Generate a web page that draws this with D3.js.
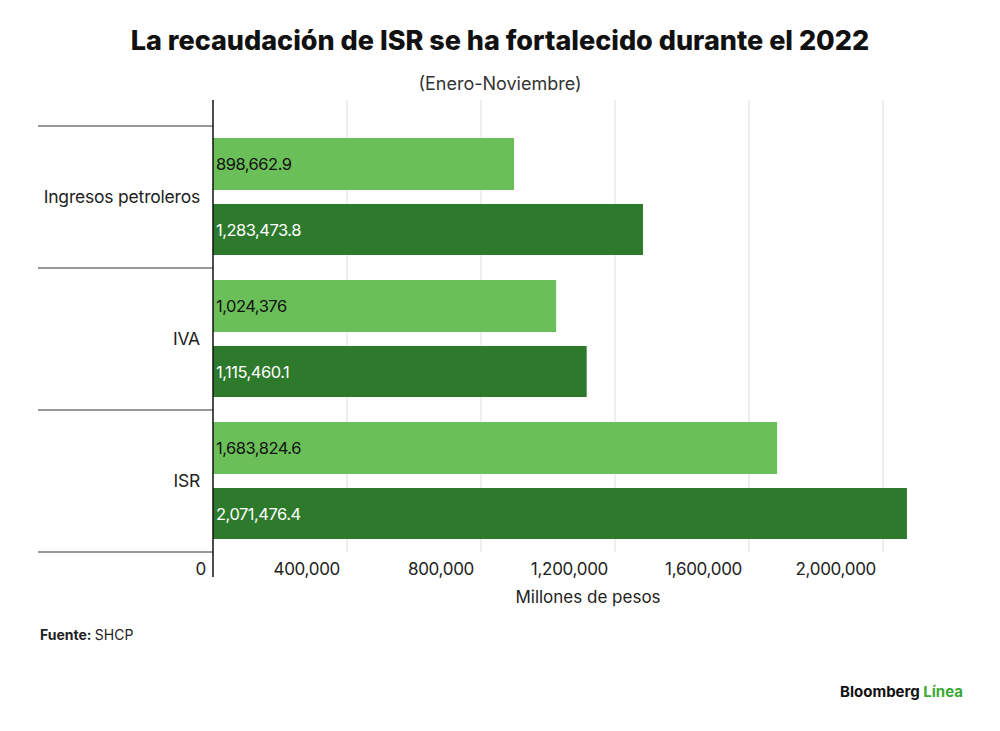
<!DOCTYPE html>
<html lang="es">
<head>
<meta charset="UTF-8">
<script src="https://d3js.org/d3.v7.min.js"></script>
<style>
  body { margin: 0; background: #fff; font-family: "Inter", "Roboto", sans-serif; }
</style>
</head>
<body>
<div id="chart"></div>
<script>
  // datos (millones de pesos)
  const categories = ["Ingresos petroleros", "IVA", "ISR"]
  const values2021 = [898662.9, 1024376, 1683824.6]
  const values2022 = [1283473.8, 1115460.1, 2071476.4]
  const labels2021 = ["898,662.9", "1,024,376", "1,683,824.6"]
  const labels2022 = ["1,283,473.8", "1,115,460.1", "2,071,476.4"]
  const tickValues = [0, 400000, 800000, 1200000, 1600000, 2000000]

  const W = 1000, H = 731
  const svg = d3.select("#chart").append("svg").attr("width", W).attr("height", H)

  const x = d3.scaleLinear().domain([0, 400000]).range([213, 347])
  const y = d3.scaleBand().domain(categories).range([126, 552])

  svg.append("text").attr("x", 500).attr("y", 50).attr("text-anchor", "middle")
    .attr("font-size", 27).attr("font-weight", 800).attr("fill", "#111")
    .text("La recaudación de ISR se ha fortalecido durante el 2022")
  svg.append("text").attr("x", 500).attr("y", 90).attr("text-anchor", "middle")
    .attr("font-size", 18).attr("fill", "#333").text("(Enero-Noviembre)")

  // grid
  svg.selectAll(".grid").data(tickValues.slice(1)).enter().append("line")
    .attr("x1", d => x(d)).attr("x2", d => x(d)).attr("y1", 100).attr("y2", 552)
    .attr("stroke", "#ddd")

  // separadores
  const seps = [126, 268, 410, 552]
  svg.selectAll(".sep").data(seps).enter().append("line")
    .attr("x1", 38).attr("x2", 213).attr("y1", d => d).attr("y2", d => d)
    .attr("stroke", "#333")

  const bw = y.bandwidth()
  const g = svg.selectAll(".cat").data(categories).enter().append("g")
    .attr("transform", d => `translate(0, ${y(d)})`)

  g.append("rect").attr("x", x(0)).attr("y", 12).attr("height", 52)
    .attr("width", (d, i) => x(values2021[i]) - x(0)).attr("fill", "#6abf59")
  g.append("rect").attr("x", x(0)).attr("y", 78).attr("height", 51)
    .attr("width", (d, i) => x(values2022[i]) - x(0)).attr("fill", "#2e7a2c")

  g.append("text").attr("x", 216).attr("y", 44).attr("font-size", 16.5).attr("fill", "#111")
    .attr("letter-spacing", -0.5).text((d, i) => labels2021[i])
  g.append("text").attr("x", 216).attr("y", 110).attr("font-size", 16.5).attr("fill", "#fff")
    .attr("letter-spacing", -0.5).text((d, i) => labels2022[i])

  g.append("text").attr("x", 200).attr("y", bw / 2 + 6).attr("text-anchor", "end")
    .attr("font-size", 17.5).attr("fill", "#222").attr("letter-spacing", -0.2).text(d => d)

  // eje
  svg.append("line").attr("x1", 213).attr("x2", 213).attr("y1", 100).attr("y2", 577)
    .attr("stroke", "#111").attr("stroke-width", 1.5)

  svg.selectAll(".tick").data(tickValues).enter().append("text")
    .attr("x", d => x(d) - 7).attr("y", 575).attr("text-anchor", "end")
    .attr("font-size", 17).attr("fill", "#222").attr("letter-spacing", -0.3)
    .text(d => d3.format(",")(d))

  svg.append("text").attr("x", 588).attr("y", 603).attr("text-anchor", "middle")
    .attr("font-size", 17).attr("fill", "#222").text("Millones de pesos")

  const f = svg.append("text").attr("x", 40).attr("y", 640).attr("font-size", 14).attr("fill", "#222")
  f.append("tspan").attr("font-weight", 700).text("Fuente: ")
  f.append("tspan").text("SHCP")

  const b = svg.append("text").attr("x", 963).attr("y", 697).attr("text-anchor", "end")
    .attr("font-size", 15).attr("font-weight", 700)
  b.append("tspan").attr("fill", "#111").text("Bloomberg ")
  b.append("tspan").attr("fill", "#3aa935").text("Línea")
</script>
</body>
</html>
